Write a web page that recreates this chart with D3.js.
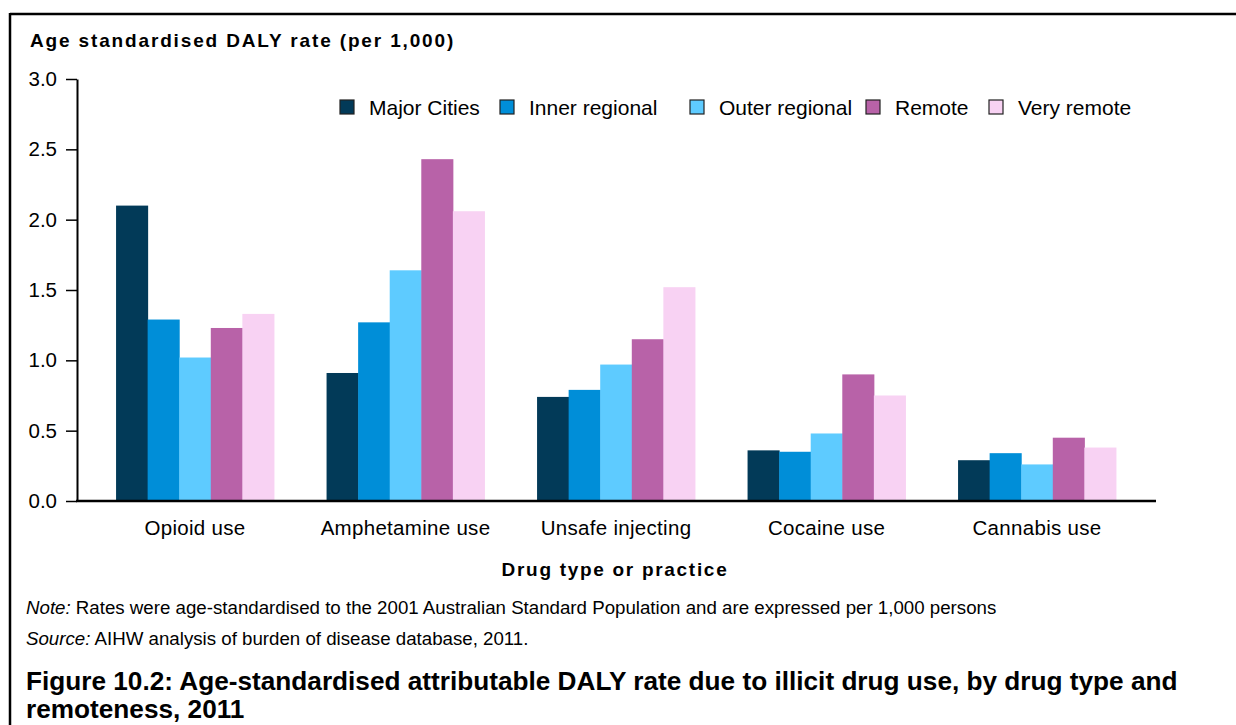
<!DOCTYPE html>
<html><head><meta charset="utf-8">
<script src="https://cdn.jsdelivr.net/npm/d3@7"></script>
<style>body{margin:0;background:#fff}svg{display:block;font-family:"Liberation Sans",Arial,sans-serif}</style>
</head><body><svg id="c" width="1236" height="725"></svg>
<script>
const categories = ["Opioid use","Amphetamine use","Unsafe injecting","Cocaine use","Cannabis use"];
const seriesNames = ["Major Cities","Inner regional","Outer regional","Remote","Very remote"];
const majorCities   = [2.10, 0.91, 0.74, 0.36, 0.29];
const innerRegional = [1.29, 1.27, 0.79, 0.35, 0.34];
const outerRegional = [1.02, 1.64, 0.97, 0.48, 0.26];
const remote        = [1.23, 2.43, 1.15, 0.90, 0.45];
const veryRemote    = [1.33, 2.06, 1.52, 0.75, 0.38];
const yTicks = [0, 0.5, 1.0, 1.5, 2.0, 2.5, 3.0];
const colors = ["#023a58","#008ed8","#5ecbff","#b862a8","#f8d2f3"];

const series = [majorCities, innerRegional, outerRegional, remote, veryRemote];
const svg = d3.select("#c");
const FF = "Liberation Sans, Arial, sans-serif";

// frame
svg.append("line").attr("x1",10).attr("x2",1236).attr("y1",14).attr("y2",14).attr("stroke","#000").attr("stroke-width",2.5);
svg.append("line").attr("x1",10).attr("x2",10).attr("y1",13).attr("y2",725).attr("stroke","#000").attr("stroke-width",2.5);

const y = d3.scaleLinear().domain([0,3]).range([501,79]);
const x0 = d3.scaleBand().domain(categories).range([89.75,1142.25]).paddingInner(0.25).paddingOuter(0.125);
const x1 = d3.scaleBand().domain(seriesNames).range([0,x0.bandwidth()]);

// bars
categories.forEach((c,ci)=>{
  const g = svg.append("g").attr("transform",`translate(${x0(c)},0)`);
  g.selectAll("rect").data(series.map((s,si)=>({name:seriesNames[si],v:s[ci],col:colors[si]})))
    .join("rect")
    .attr("x",d=>x1(d.name)).attr("width",x1.bandwidth()+0.5)
    .attr("y",d=>y(d.v)).attr("height",d=>501-y(d.v))
    .attr("fill",d=>d.col);
});

// y axis
const ya = svg.append("g").attr("transform","translate(77,0)")
  .call(d3.axisLeft(y).tickValues(yTicks).tickFormat(d3.format(".1f")).tickSize(11).tickSizeOuter(0));
ya.select(".domain").attr("stroke","#000").attr("stroke-width",2);
ya.selectAll(".tick line").attr("stroke","#000").attr("stroke-width",1.5);
ya.selectAll(".tick text").attr("x",-20).attr("font-size",20.5).attr("fill","#000").attr("font-family",FF);

// x axis
const xa = svg.append("g").attr("transform","translate(0,501)")
  .call(d3.axisBottom(x0).tickSize(0).tickSizeOuter(0));
xa.select(".domain").remove();
svg.append("line").attr("x1",76).attr("x2",1156).attr("y1",501).attr("y2",501).attr("stroke","#000").attr("stroke-width",2.5);
xa.selectAll(".tick text").attr("y",19).attr("dy","0.71em").attr("font-size",20.5).attr("letter-spacing",0.3).attr("fill","#000").attr("font-family",FF);

// axis titles
svg.append("text").attr("x",30).attr("y",47).attr("font-size",19).attr("font-weight","bold").attr("letter-spacing",1.85)
  .text("Age standardised DALY rate (per 1,000)");
svg.append("text").attr("x",615).attr("y",576).attr("text-anchor","middle").attr("font-size",19).attr("font-weight","bold").attr("letter-spacing",1.7)
  .text("Drug type or practice");

// legend
const legX = [340, 500, 690, 866, 989];
const leg = svg.append("g");
seriesNames.forEach((n,i)=>{
  leg.append("rect").attr("x",legX[i]).attr("y",100).attr("width",14).attr("height",14).attr("fill",colors[i]).attr("stroke","#222").attr("stroke-width",1.2);
  leg.append("text").attr("x",legX[i]+29).attr("y",114.5).attr("font-size",21).text(n);
});

// notes
const note = svg.append("text").attr("x",26).attr("y",614).attr("font-size",18.7);
note.append("tspan").attr("font-style","italic").text("Note:");
note.append("tspan").text(" Rates were age-standardised to the 2001 Australian Standard Population and are expressed per 1,000 persons");
const src = svg.append("text").attr("x",26).attr("y",645).attr("font-size",18.7);
src.append("tspan").attr("font-style","italic").text("Source:");
src.append("tspan").text(" AIHW analysis of burden of disease database, 2011.");

svg.append("text").attr("x",26).attr("y",690).attr("font-size",26.2).attr("font-weight","bold")
  .text("Figure 10.2: Age-standardised attributable DALY rate due to illicit drug use, by drug type and");
svg.append("text").attr("x",26).attr("y",718).attr("font-size",26.2).attr("font-weight","bold")
  .text("remoteness, 2011");
</script></body></html>
